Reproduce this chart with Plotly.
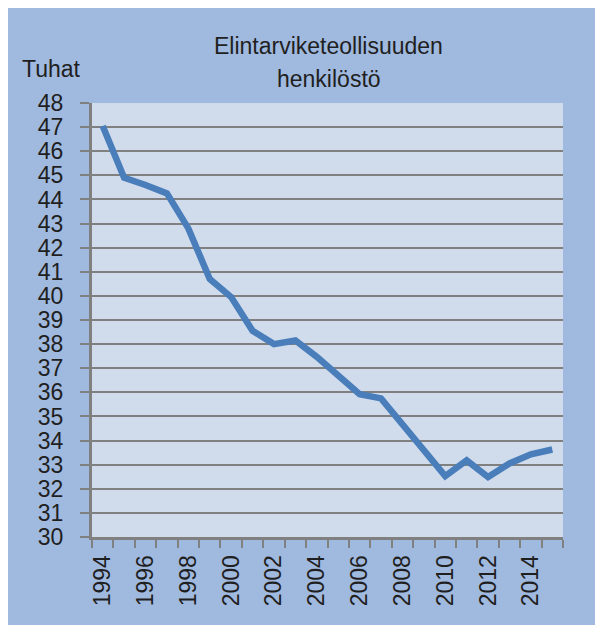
import plotly.graph_objects as go

years = list(range(1994, 2016))
staff_thousands = [47.05, 44.9, 44.6, 44.25, 42.8, 40.7, 39.95, 38.55, 38.0, 38.15,
                   37.47, 36.7, 35.92, 35.75, 34.65, 33.54, 32.53, 33.18, 32.49, 33.05,
                   33.43, 33.63]
year_labels = list(range(1994, 2015, 2))
y_ticks = list(range(30, 49))
title_lines = ["Elintarviketeollisuuden", "henkilöstö"]
unit_label = "Tuhat"

FONT = "Liberation Sans, Arial, sans-serif"
BG = "#a0b9de"
PLOT_BG = "#d0dcec"
GRID = "#808080"
TXT = "#1f1f1f"

# page body has an 8px margin, so the figure sits at (8, 8) in the window;
# the figure is made a bit larger so the blue background reaches the window edges
W, H = 612, 634
ML, MT = 84, 95
PLOT_W, PLOT_H = 471, 434
MR = W - ML - PLOT_W
MB = H - MT - PLOT_H
pw, ph = PLOT_W, PLOT_H

fig = go.Figure()
fig.add_trace(go.Scatter(
    x=years, y=staff_thousands, mode="lines",
    line=dict(color="#4a7ebb", width=6.5, shape="linear"),
    hoverinfo="x+y", showlegend=False,
))

boundaries = [y - 0.5 for y in years] + [years[-1] + 0.5]

fig.update_layout(
    width=W, height=H,
    margin=dict(l=ML, r=MR, t=MT, b=MB, pad=0),
    paper_bgcolor=BG, plot_bgcolor=PLOT_BG,
    font=dict(family=FONT, size=23, color=TXT),
    xaxis=dict(
        range=[years[0] - 0.5, years[-1] + 0.5],
        tickmode="array", tickvals=year_labels, ticktext=[str(v) for v in year_labels],
        ticks="", tickangle=-90, ticklabelstandoff=6,
        showgrid=False, zeroline=False,
        showline=True, linecolor=GRID, linewidth=3,
        tickfont=dict(family=FONT, size=23, color=TXT),
        minor=dict(tickmode="array", tickvals=boundaries, ticks="outside",
                   ticklen=8, tickwidth=2, tickcolor=GRID, showgrid=False),
        fixedrange=True,
    ),
    yaxis=dict(
        range=[30, 48], tickmode="array", tickvals=y_ticks,
        ticks="outside", ticklen=9, tickwidth=2, tickcolor=GRID,
        showgrid=True, gridcolor=GRID, gridwidth=2,
        zeroline=False, showline=True, linecolor=GRID, linewidth=3,
        tickfont=dict(family=FONT, size=23, color=TXT),
        ticklabelstandoff=12,
        fixedrange=True,
    ),
)

def xpaper(px):
    return (px - ML) / pw

title_centers = [38, 71.3]
for line, cy in zip(title_lines, title_centers):
    fig.add_annotation(text=line, xref="paper", yref="paper",
                       x=xpaper(320.5), y=1, yanchor="middle", xanchor="center",
                       yshift=MT - cy, showarrow=False,
                       font=dict(family=FONT, size=23, color=TXT))

fig.add_annotation(text=unit_label, xref="paper", yref="paper",
                   x=xpaper(43), y=1, yanchor="middle", xanchor="center",
                   yshift=MT - 60.5, showarrow=False,
                   font=dict(family=FONT, size=23, color=TXT))

fig.write_html("out.html")
